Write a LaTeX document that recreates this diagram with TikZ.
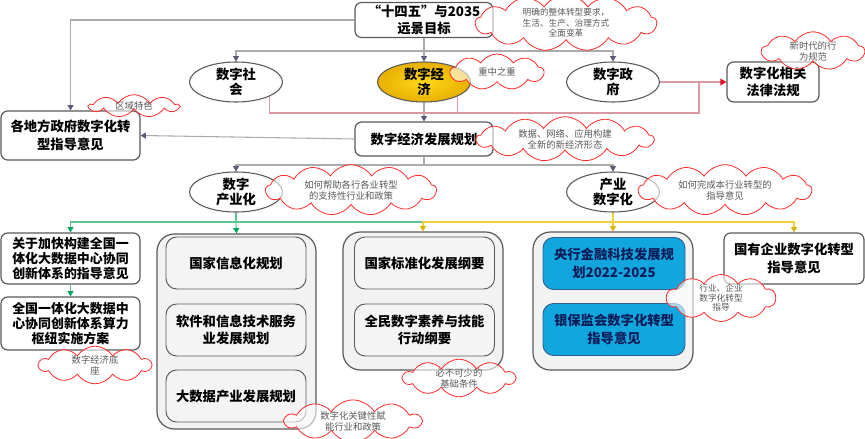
\documentclass[tikz,border=0pt]{standalone}
\usepackage{fontspec}
\setmainfont{Noto Sans CJK SC}
\usetikzlibrary{arrows.meta,shapes.geometric,shapes.symbols}
\definecolor{boxline}{HTML}{595959}
\definecolor{conn}{HTML}{ABABAB}
\definecolor{tipc}{HTML}{5A5A78}
\definecolor{redc}{HTML}{DB98A0}
\definecolor{redtip}{HTML}{E0102A}
\definecolor{greenc}{HTML}{5CC593}
\definecolor{greentip}{HTML}{00A65A}
\definecolor{yellowc}{HTML}{F0CF3A}
\definecolor{yellowtip}{HTML}{D7B400}
\definecolor{cloudc}{HTML}{FF2A2A}
\definecolor{cloudtxt}{HTML}{595959}
\definecolor{goldout}{HTML}{E8B000}
\definecolor{goldin}{HTML}{FFD81A}
\definecolor{bluef}{HTML}{12A6DF}
\definecolor{blueline}{HTML}{2F5F8F}
\definecolor{bluetxt}{HTML}{0A1E5A}
\definecolor{groupf}{HTML}{F2F2F2}
\definecolor{innerf}{HTML}{F4F4F4}
\tikzset{
  box/.style={draw=boxline, line width=0.9pt, rounded corners=5pt, fill=white,
    align=center, inner sep=0pt, font=\bfseries\fontsize{10}{13.3}\selectfont},
  box3/.style={box, font=\bfseries\fontsize{9.7}{11.3}\selectfont},
  ell/.style={ellipse, draw=boxline, line width=0.8pt, fill=white, inner sep=0pt,
    minimum width=69.75pt, minimum height=30pt, align=center,
    font=\bfseries\fontsize{10}{11.5}\selectfont},
  groupbox/.style={draw=boxline, line width=0.9pt, rounded corners=13pt, fill=groupf},
  innerbox/.style={draw=gray!70!black, line width=0.7pt, rounded corners=8pt, fill=innerf,
    align=center, inner sep=0pt, minimum width=105pt, minimum height=39pt,
    font=\bfseries\fontsize{10}{13.3}\selectfont},
  bluebox/.style={innerbox, fill=bluef, draw=blueline, text=bluetxt},
  cloudnote/.style={cloud, cloud puffs=13, cloud puff arc=115, cloud ignores aspect,
    draw=cloudc, line width=0.6pt, fill=white, fill opacity=0.6, text opacity=1,
    text=cloudtxt, align=center, inner sep=0pt,
    font=\fontsize{7}{8.3}\selectfont},
  conn/.style={draw=conn, line width=0.8pt},
  garrow/.style={-{Triangle[length=4pt,width=4.5pt,color=tipc]}},
  redline/.style={draw=redc, line width=0.9pt},
  rarrow/.style={-{Triangle[length=4.5pt,width=5pt,color=redtip]}},
  greenline/.style={draw=greenc, line width=0.8pt},
  grarrow/.style={-{Triangle[length=4pt,width=4.5pt,color=greentip]}},
  yellowline/.style={draw=yellowc, line width=0.8pt},
  yarrow/.style={-{Triangle[length=4pt,width=4.5pt,color=yellowtip]}}
}
\begin{document}
\begin{tikzpicture}[x=0.75pt,y=-0.75pt]
\path[use as bounding box] (0,0) rectangle (865,439);

% ---- main nodes
\node[box, minimum width=103.5pt, minimum height=26.25pt] (top) at (424,20) {“十四五”与2035\\远景目标};
\node[ell] (soc) at (236,82) {数字社\\会};
\node[ell, inner color=goldin, outer color=goldout] (econ) at (424,82) {数字经\\济};
\node[ell] (gov) at (613,82) {数字政\\府};
\node[box, minimum width=69pt, minimum height=30pt] (law) at (773,82) {数字化相关\\法律法规};
\node[box, minimum width=103.5pt, minimum height=25.5pt] (plan) at (424,139) {数字经济发展规划};
\node[box, minimum width=104.25pt, minimum height=36.75pt] (local) at (70.5,135.5) {各地方政府数字化转\\型指导意见};
\node[ell] (ind) at (236,192) {数字\\产业化};
\node[ell] (dig) at (613,192) {产业\\数字化};

% ---- lower boxes
\node[box3, minimum width=104.25pt, minimum height=38.25pt] (b1) at (70.5,258.5) {关于加快构建全国一\\体化大数据中心协同\\创新体系的指导意见};
\node[box3, minimum width=104.25pt, minimum height=39.75pt] (b2) at (70.5,323.5) {全国一体化大数据中\\心协同创新体系算力\\枢纽实施方案};

\node[groupbox, minimum width=119.25pt, minimum height=146.25pt] (g1) at (236.5,331.5) {};
\node[innerbox] (i11) at (236,263) {国家信息化规划};
\node[innerbox] (i12) at (236,330) {软件和信息技术服务\\业发展规划};
\node[innerbox] (i13) at (236,396) {大数据产业发展规划};

\node[groupbox, minimum width=120pt, minimum height=103.5pt] (g2) at (423,301) {};
\node[innerbox] (i21) at (424.5,263) {国家标准化发展纲要};
\node[innerbox] (i22) at (424.5,330) {全民数字素养与技能\\行动纲要};

\node[groupbox, minimum width=120pt, minimum height=103.5pt] (g3) at (613,301) {};
\node[bluebox, minimum width=106.5pt] (i31) at (614,263.5) {央行金融科技发展规\\划2022-2025};
\node[bluebox, minimum width=106.5pt] (i32) at (614,329.5) {银保监会数字化转型\\指导意见};

\node[box, minimum width=105pt, minimum height=38.25pt] (soe) at (794,258.5) {国有企业数字化转型\\指导意见};

% ---- connectors (gray)
\coordinate (j1) at (424,51);
\coordinate (j2) at (424,165);
\draw[conn, garrow] (top.west) -| (local.north);
\draw[conn, garrow] (top.south) -- (econ.north);
\draw[conn, garrow] (j1) -| (soc.north);
\draw[conn, garrow] (j1) -| (gov.north);
\draw[conn, garrow] (econ.south) -- (plan.north);
\draw[conn, garrow] (plan.west) -- (local.east);
\draw[conn] (plan.south) -- (j2);
\draw[conn, garrow] (j2) -| (ind.north);
\draw[conn, garrow] (j2) -| (dig.north);

% ---- red connectors
\coordinate (rj) at (699,113);
\draw[redline] (soc.south east) |- (rj) -- (rj |- law.west);
\draw[redline] (econ.south east) -- (econ.south east |- rj);
\draw[redline, rarrow] (gov.east) -- (law.west);

% ---- green connectors
\coordinate (gj) at (236,222);
\draw[greenline] (ind.south) -- (gj);
\draw[greenline, grarrow] (gj) -| (b1.north);
\draw[greenline, grarrow] (gj) -- (g1.north);
\draw[greenline] (gj) -- (gj -| g2.north);
\draw[greenline, grarrow] (b1.south) -- (b2.north);

% ---- yellow connectors
\coordinate (yj) at (613,222);
\draw[yellowline] (dig.south) -- (yj);
\draw[yellowline, yarrow] (yj) -| (g2.north);
\draw[yellowline, yarrow] (yj) -- (g3.north);
\draw[yellowline, yarrow] (yj) -| (soe.north);

% ---- clouds
\node[cloudnote, minimum width=136pt, minimum height=34pt, font=\fontsize{6.5}{7.9}\selectfont] (c1) at (566,23) {明确的整体转型要求，\\生活、生产、治理方式\\全面变革};
\node[cloudnote, cloud puffs=9, minimum width=70pt, minimum height=27pt] (c2) at (497,72) {重中之重};
\node[cloudnote, cloud puffs=9, minimum width=77pt, minimum height=18pt] (c3) at (813,51) {新时代的行\\为规范};
\node[cloudnote, cloud puffs=9, minimum width=67pt, minimum height=17pt] (c4) at (134,106) {区域特色};
\node[cloudnote, minimum width=133pt, minimum height=26pt] (c5) at (565,139) {数据、网络、应用构建\\全新的新经济形态};
\node[cloudnote, minimum width=128pt, minimum height=38pt] (c6) at (351,190) {如何帮助各行各业转型\\的支持性行业和政策};
\node[cloudnote, minimum width=130pt, minimum height=38pt] (c7) at (725,190) {如何完成本行业转型的\\指导意见};
\node[cloudnote, cloud puffs=10, minimum width=84pt, minimum height=27pt] (c8) at (95,365) {数字经济底\\座};
\node[cloudnote, cloud puffs=10, minimum width=102pt, minimum height=25pt] (c9) at (353,421) {数字化关键性赋\\能行业和政策};
\node[cloudnote, cloud puffs=10, minimum width=84pt, minimum height=25pt] (c10) at (459,378) {必不可少的\\基础条件};
\node[cloudnote, cloud puffs=10, minimum width=82pt, minimum height=26pt, font=\fontsize{6.5}{7.2}\selectfont] (c11) at (721,298) {行业、企业\\数字化转型\\指导};
\end{tikzpicture}
\end{document}
